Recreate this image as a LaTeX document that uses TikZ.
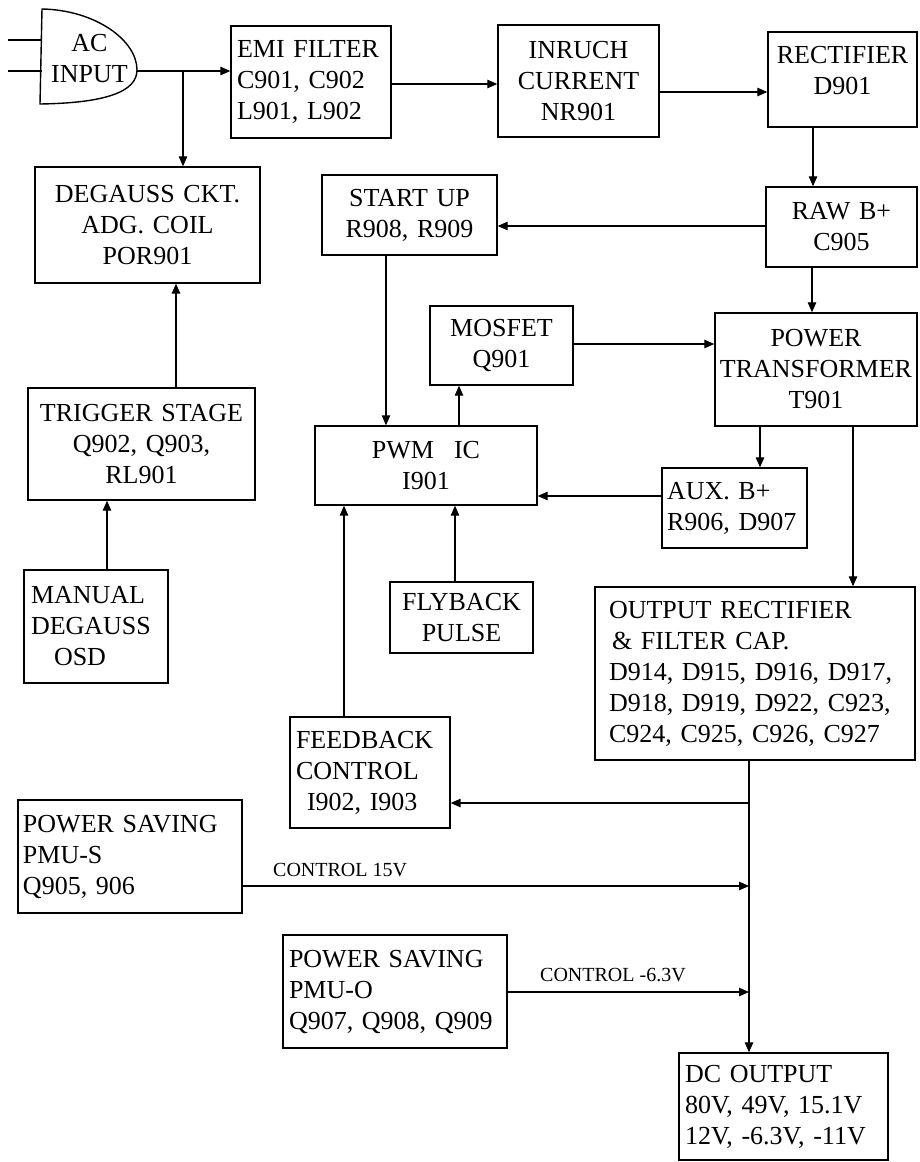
\documentclass[tikz,border=0pt]{standalone}
\usepackage{fontspec}
\setmainfont{Liberation Serif}
\usetikzlibrary{arrows.meta}
\begin{document}
\begin{tikzpicture}[x=1pt,y=-1pt,
  box/.style={draw, line width=1.4pt, rectangle, inner ysep=0pt, font=\fontsize{26pt}{31pt}\selectfont},
  ctr/.style={align=center},
  lft/.style={align=left},
  arr/.style={line width=1.2pt, -{Triangle[length=10pt,width=8.5pt]}},
  ln/.style={line width=1.2pt},
  lbl/.style={font=\fontsize{20pt}{24pt}\selectfont, inner sep=0pt},
]
\useasboundingbox[fill=white] (0,0) rectangle (919,1162);

% AC input
\draw[line width=1.4pt] (42,9) .. controls (95,10) and (137,40) .. (137,70) .. controls (137,92) and (105,103) .. (40,104) -- cycle;
\node[font=\fontsize{26pt}{31pt}\selectfont, align=center, inner sep=0pt, minimum width=95pt, minimum height=95pt] (ac) at (89.5,59) {AC\\INPUT};
\coordinate (in1) at (8,40);
\coordinate (in2) at (8,71);
\draw[ln] (in1) -- (in1 -| 42,0);
\draw[ln] (in2) -- (in2 -| 42,0);

% boxes
\node[box, lft, minimum width=160pt, minimum height=112pt, inner xsep=6pt, text width=148pt] (emi) at (311,82) {EMI FILTER\\C901, C902\\L901, L902};
\node[box, ctr, minimum width=161pt, minimum height=112pt, inner xsep=5pt, text width=151pt] (inr) at (578.5,81) {INRUCH\\CURRENT\\NR901};
\node[box, ctr, minimum width=149pt, minimum height=95pt, inner xsep=4pt, text width=141pt] (rect) at (842.5,79.5) {RECTIFIER\\D901\\[-12pt]\mbox{}};
\node[box, ctr, minimum width=151pt, minimum height=80pt, inner xsep=5pt, text width=141pt] (raw) at (841.5,227) {RAW B+\\C905};
\node[box, ctr, minimum width=225pt, minimum height=116pt, inner xsep=5pt, text width=215pt] (deg) at (147.5,225) {DEGAUSS CKT.\\ADG. COIL\\POR901};
\node[box, ctr, minimum width=175pt, minimum height=80pt, inner xsep=5pt, text width=165pt] (start) at (409.5,215) {START UP\\R908, R909};
\node[box, ctr, minimum width=143pt, minimum height=79pt, inner xsep=5pt, text width=133pt] (mos) at (501.5,345.5) {MOSFET\\Q901};
\node[box, ctr, minimum width=202pt, minimum height=113pt, inner xsep=3pt, text width=196pt] (pt) at (816,369.5) {POWER\\TRANSFORMER\\T901};
\node[box, ctr, minimum width=222pt, minimum height=79pt, inner xsep=5pt, text width=212pt] (pwm) at (426,465.5) {PWM\hspace{20pt}IC\\I901};
\node[box, lft, minimum width=145pt, minimum height=80pt, inner xsep=5pt, text width=135pt] (aux) at (734.5,508) {AUX. B+\\R906, D907};
\node[box, ctr, minimum width=227pt, minimum height=112pt, inner xsep=5pt, text width=217pt] (trig) at (141.5,444) {TRIGGER STAGE\\Q902, Q903,\\RL901};
\node[box, lft, minimum width=144pt, minimum height=113pt, inner xsep=7pt, text width=130pt] (man) at (96,626.5) {MANUAL\\DEGAUSS\\\hspace*{23pt}OSD};
\node[box, ctr, minimum width=143pt, minimum height=71pt, inner xsep=5pt, text width=133pt] (fly) at (461.5,617.5) {FLYBACK\\PULSE};
\node[box, lft, minimum width=320pt, minimum height=173pt, inner xsep=14pt, text width=292pt] (out) at (755,673.5) {OUTPUT RECTIFIER\\\hspace*{3pt}\& FILTER CAP.\\D914, D915, D916, D917,\\D918, D919, D922, C923,\\C924, C925, C926, C927};
\node[box, lft, minimum width=160pt, minimum height=111pt, inner xsep=6pt, text width=148pt] (fb) at (370,772.5) {FEEDBACK\\CONTROL\\\hspace*{11pt}I902, I903};
\node[box, lft, minimum width=224pt, minimum height=113pt, inner xsep=5pt, text width=214pt] (pmus) at (130,856.5) {POWER SAVING\\PMU-S\\Q905, 906};
\node[box, lft, minimum width=224pt, minimum height=113pt, inner xsep=6pt, text width=212pt] (pmuo) at (395,991.5) {POWER SAVING\\PMU-O\\Q907, Q908, Q909};
\node[box, lft, minimum width=209pt, minimum height=107pt, inner xsep=6pt, text width=197pt] (dc) at (783.5,1106.5) {DC OUTPUT\\80V, 49V, 15.1V\\12V, -6.3V, -11V};

% connectors
\draw[arr] (ac.east |- 0,71) -- (emi.west |- 0,71);
\coordinate (j1) at (183,71);
\draw[arr] (j1) -- (j1 |- deg.north);
\draw[arr] (emi.east |- 0,84) -- (inr.west |- 0,84);
\draw[arr] (inr.east |- 0,92) -- (rect.west |- 0,92);
\draw[arr] (rect.south -| 813,0) -- (raw.north -| 813,0);
\draw[arr] (raw.west |- 0,226) -- (start.east |- 0,226);
\draw[arr] (raw.south -| 812,0) -- (pt.north -| 812,0);
\draw[arr] (start.south -| 386,0) -- (pwm.north -| 386,0);
\draw[arr] (pwm.north -| 459,0) -- (mos.south -| 459,0);
\draw[arr] (mos.east |- 0,344) -- (pt.west |- 0,344);
\draw[arr] (pt.south -| 760,0) -- (aux.north -| 760,0);
\draw[arr] (aux.west |- 0,496) -- (pwm.east |- 0,496);
\draw[arr] (pt.south -| 853,0) -- (out.north -| 853,0);
\draw[arr] (fly.north -| 455,0) -- (pwm.south -| 455,0);
\draw[arr] (fb.north -| 344,0) -- (pwm.south -| 344,0);
\draw[arr] (trig.north -| 176,0) -- (deg.south -| 176,0);
\draw[arr] (man.north -| 107,0) -- (trig.south -| 107,0);
\draw[arr] (out.south -| 749,0) -- (dc.north -| 749,0);
\coordinate (j2) at (749,803);
\draw[arr] (j2) -- (fb.east |- j2);
\coordinate (j3) at (749,886);
\draw[arr] (pmus.east |- j3) -- (j3);
\coordinate (j4) at (749,992);
\draw[arr] (pmuo.east |- j4) -- (j4);

\node[lbl, anchor=base west] (l15) at (273,876) {CONTROL 15V};
\node[lbl, anchor=base west] (l63) at (540,981) {CONTROL -6.3V};
\end{tikzpicture}
\end{document}
